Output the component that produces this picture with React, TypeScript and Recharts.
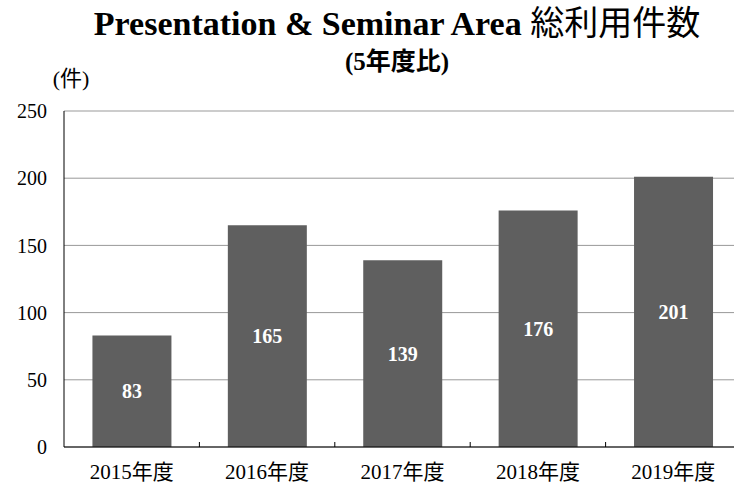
import React from "react";
import { BarChart, Bar, XAxis, YAxis, CartesianGrid, LabelList } from "recharts";

const years = ["2015年度", "2016年度", "2017年度", "2018年度", "2019年度"];
const counts = [83, 165, 139, 176, 201];
const yTicks = [0, 50, 100, 150, 200, 250];

const titleLatin = "Presentation & Seminar Area";
const titleJa = "総利用件数";
const subtitle = "(5年度比)";
const unitLabel = "(件)";

const FONT = "'Liberation Serif', 'Noto Sans CJK JP', serif";
const BAR_COLOR = "#5f5f5f";

const data = years.map((y, i) => ({ year: y, count: counts[i] }));

const YearTick = (props: any) => {
	const { x, y, payload, index } = props;
	const half = payload?.offset ?? 0;
	return (
		<g>
			{index > 0 && half > 0 && <line x1={x - half} x2={x - half} y1={y} y2={y - 5} stroke="#000" />}
			<text x={x} y={y + 32} textAnchor="middle" fontFamily={FONT} fontSize={21} fill="#000">
				{payload.value}
			</text>
		</g>
	);
};

export default function App() {
	return (
		<div style={{ position: "absolute", left: 0, top: 0, width: 734, height: 490, overflow: "hidden", background: "#fff" }}>
			<BarChart
				width={750}
				height={490}
				data={data}
				margin={{ top: 111, right: 9, bottom: 0, left: 0 }}
				barCategoryGap="21%"
			>
				<CartesianGrid vertical={false} stroke="#999" />
				<XAxis
					dataKey="year"
					height={43}
					stroke="#000"
					tickLine={false}
					tickSize={0}
					tickMargin={0}
					tick={<YearTick />}
					interval={0}
				/>
				<YAxis
					width={64}
					domain={[0, 250]}
					ticks={yTicks}
					stroke="#000"
					tickLine={false}
					tickSize={0}
					tickMargin={17}
					tick={{ fontFamily: FONT, fontSize: 20, fill: "#000" }}
				/>
				<Bar dataKey="count" fill={BAR_COLOR} isAnimationActive={false}>
					<LabelList
						dataKey="count"
						position="center"
						fill="#fff"
						style={{ fontFamily: FONT, fontSize: 20, fontWeight: 700 }}
					/>
				</Bar>
			</BarChart>
			<svg width={734} height={110} style={{ position: "absolute", left: 0, top: 0 }}>
				<text x={397} y={35} textAnchor="middle" fontFamily={FONT} fontSize={34} fontWeight={700} fill="#000">
					{titleLatin}
					<tspan fontWeight={400}> {titleJa}</tspan>
				</text>
				<text x={397} y={70} textAnchor="middle" fontFamily={FONT} fontSize={25} fontWeight={700} fill="#000">
					{subtitle}
				</text>
				<text x={71} y={86} textAnchor="middle" fontFamily={FONT} fontSize={22} fill="#000">
					{unitLabel}
				</text>
			</svg>
		</div>
	);
}
